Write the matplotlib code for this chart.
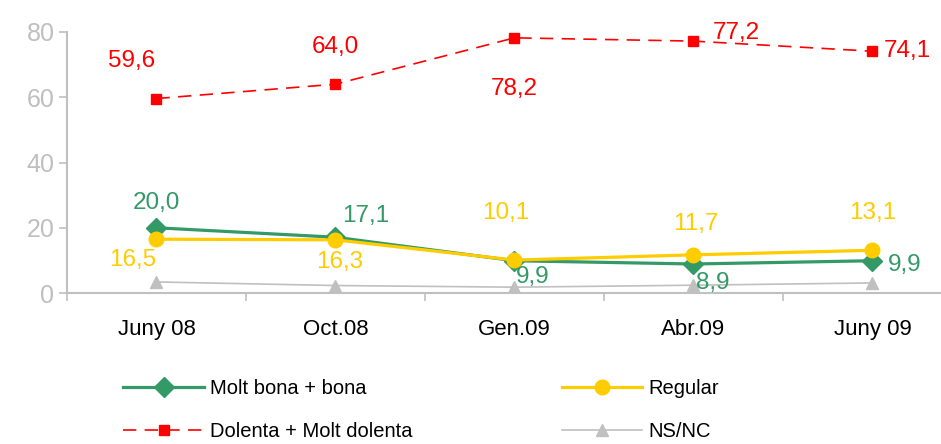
import numpy as np
import matplotlib
matplotlib.use("Agg")
from matplotlib import pyplot as plt

plt.rcParams['font.family'] = ['Liberation Sans', 'DejaVu Sans']

# chart data
periods = ["Juny 08", "Oct.08", "Gen.09", "Abr.09", "Juny 09"]
molt_bona = [20.0, 17.1, 9.9, 8.9, 9.9]
regular = [16.5, 16.3, 10.1, 11.7, 13.1]
dolenta = [59.6, 64.0, 78.2, 77.2, 74.1]
ns_nc = [3.4, 2.3, 1.8, 2.4, 3.1]

# label offsets in points (dx, dy)
off_molt = [(0, 18), (22, 15), (13, -12), (14, -14), (23, -3)]
off_reg = [(-17, -15), (3, -16), (-6, 34), (2, 22), (0, 27)]
off_dol = [(-18, 27), (0, 27), (0, -37), (31, 6), (25, 0)]

GREEN = "#339966"
YELLOW = "#FFCC00"
RED = "#FF0000"
GREY = "#C0C0C0"

fig = plt.figure(figsize=(9.41, 4.44), dpi=100)
ax = fig.add_axes([0.0712, 0.340, 0.951, 0.588])
x = np.arange(len(periods))

ax.plot(x, ns_nc, color=GREY, lw=1.2, marker="^", ms=9, mec=GREY, mfc=GREY, label="NS/NC", zorder=2)
ax.plot(x, molt_bona, color=GREEN, lw=2.3, marker="D", ms=10, mec=GREEN, mfc=GREEN, label="Molt bona + bona", zorder=3)
ax.plot(x, regular, color=YELLOW, lw=2.3, marker="o", ms=10.5, mec=YELLOW, mfc=YELLOW, label="Regular", zorder=4)
ax.plot(x, dolenta, color=RED, lw=1.2, dashes=(8, 5), marker="s", ms=7, mec=RED, mfc=RED,
        label="Dolenta + Molt dolenta", zorder=5)

def put_labels(vals, offs, col):
    for xi, v, (dx, dy) in zip(x, vals, offs):
        ax.annotate(f"{v:.1f}".replace(".", ","), (xi, v), xytext=(dx, dy), textcoords="offset points",
                    ha="center", va="center", color=col, fontsize=17.5)

put_labels(molt_bona, off_molt, GREEN)
put_labels(regular, off_reg, YELLOW)
put_labels(dolenta, off_dol, RED)

ax.set_xlim(-0.5, 4.5)
ax.set_ylim(0, 80)
ax.set_yticks([0, 20, 40, 60, 80])
ax.set_xticks(x)
ax.set_xticklabels(periods)
ax.set_xticks(np.arange(-0.5, 4.6, 1), minor=True)
ax.tick_params(axis="x", which="major", length=0, labelsize=16, pad=19, labelcolor="black")
ax.tick_params(axis="x", which="minor", length=6, color=GREY, width=1.2)
ax.tick_params(axis="y", length=6, color=GREY, width=1.2, labelsize=18, labelcolor="#BFBFBF", pad=3)
for s in ["top", "right"]:
    ax.spines[s].set_visible(False)
for s in ["left", "bottom"]:
    ax.spines[s].set_color(GREY)
    ax.spines[s].set_linewidth(1.5)

h, l = ax.get_legend_handles_labels()
order = [1, 3, 2, 0]
fig.legend([h[i] for i in order], [l[i] for i in order], ncol=2, loc="upper left",
           bbox_to_anchor=(0.1205, 0.170), frameon=False, fontsize=14.5, handlelength=4.0,
           handletextpad=0.3, columnspacing=7.4, labelspacing=1.2, borderpad=0)

fig.savefig("out.png", dpi=100)
